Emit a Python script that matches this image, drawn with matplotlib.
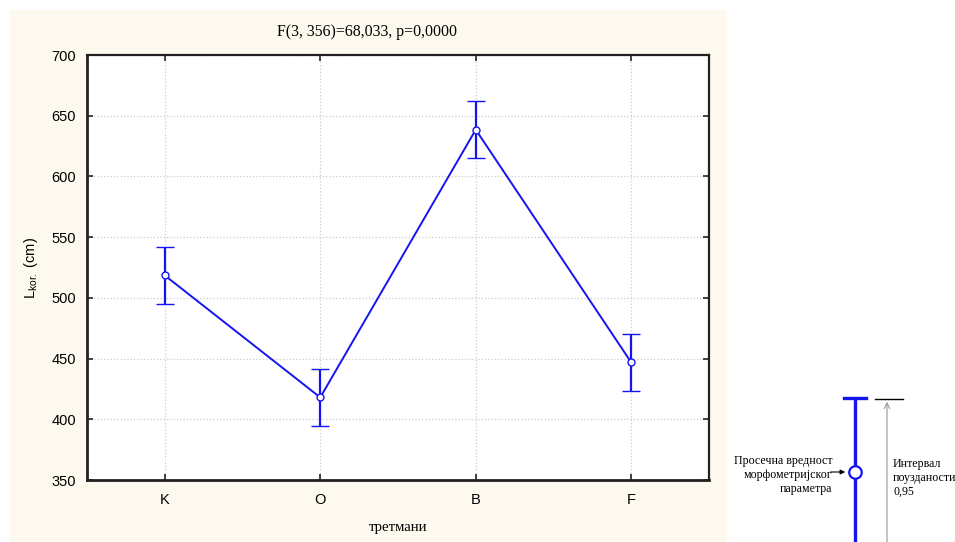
import numpy as np
import matplotlib
matplotlib.use('Agg')
import matplotlib.pyplot as plt
from matplotlib.patches import Rectangle

plt.rcParams['font.family'] = ['Liberation Sans', 'DejaVu Sans']
plt.rcParams['mathtext.default'] = 'regular'

# treatment groups, means and 0.95 confidence half-widths
treatments = ['K', 'O', 'B', 'F']
means = [518.5, 418.0, 638.5, 446.8]
ci_half = [23.5, 23.5, 23.5, 23.5]

title_text = 'F(3, 356)=68,033, p=0,0000'
x_label = 'третмани'
y_label = 'L$_{kor.}$ (cm)'
y_ticks = [350, 400, 450, 500, 550, 600, 650, 700]

BLUE = '#1414F0'
CREAM = '#FEF9EE'
SERIF = ['Liberation Serif', 'DejaVu Serif']

fig = plt.figure(figsize=(9.55, 5.42), dpi=100)
fig.patch.set_facecolor('white')

# cream panel behind the plot
fig.patches.append(Rectangle((10 / 955, 0), 717 / 955, 532 / 542,
                             transform=fig.transFigure, facecolor=CREAM,
                             edgecolor='none', zorder=-5))

ax = fig.add_axes([87 / 955, 1 - 480 / 542, 622 / 955, 425 / 542])
ax.set_zorder(2)
ax.set_facecolor('white')
x = np.arange(len(treatments))
ax.errorbar(x, means, yerr=ci_half, color=BLUE, lw=1.4, capsize=6.3,
            capthick=1.4, elinewidth=1.6, marker='o', markersize=5,
            markerfacecolor='white', markeredgecolor=BLUE,
            markeredgewidth=1.0, zorder=3)

ax.set_xlim(-0.5, 3.5)
ax.set_ylim(350, 700)
ax.set_xticks(x)
ax.set_xticklabels(treatments)
ax.set_yticks(y_ticks)
ax.tick_params(direction='in', length=4, width=1.2, labelsize=10.5,
               top=True, right=True, colors='#222222', labelcolor='black')
ax.tick_params(axis='x', pad=9)
ax.tick_params(axis='y', pad=8)
ax.grid(True, color='#cccccc', linestyle=':', linewidth=0.9)
for side in ['left', 'bottom']:
    ax.spines[side].set_linewidth(2.0)
for side in ['top', 'right']:
    ax.spines[side].set_linewidth(1.6)
for sp in ax.spines.values():
    sp.set_color('#222222')

fig.text(367 / 955, 1 - 32 / 542, title_text, ha='center', va='center',
         fontsize=11.4, family=SERIF)
fig.text(398 / 955, 1 - 528 / 542, x_label, ha='center', va='center',
         fontsize=10.6, family=SERIF)
fig.text(31 / 955, 1 - 268 / 542, y_label, ha='center', va='center',
         rotation=90, fontsize=10.5)

# explanation of the mean / interval marks, in pixel coordinates
lg = fig.add_axes([720 / 955, 0, 235 / 955, 162 / 542])
lg.set_zorder(3)
lg.set_xlim(720, 955)
lg.set_ylim(542, 380)
lg.axis('off')
lg.plot([855, 855], [398, 545], color=BLUE, lw=2.4, solid_capstyle='butt')
lg.plot([844, 866], [398, 398], color=BLUE, lw=2.4)
lg.plot([855], [472], 'o', markersize=9, markerfacecolor='white',
        markeredgecolor=BLUE, markeredgewidth=1.6)
lg.plot([875, 903], [399, 399], color='black', lw=1.0)
lg.annotate('', xy=(887, 399), xytext=(887, 545),
            arrowprops=dict(arrowstyle='->', color='#999999', lw=0.8))
lg.annotate('', xy=(848, 472), xytext=(828, 472),
            arrowprops=dict(arrowstyle='-|>', color='black', lw=0.8,
                            mutation_scale=7))
lg.text(832, 475, 'Просечна вредност\nморфометријског\nпараметра',
        ha='right', va='center', fontsize=8.6, family=SERIF, linespacing=1.2)
lg.text(893, 478, 'Интервал\nпоузданости\n0,95', ha='left', va='center',
        fontsize=8.6, family=SERIF, linespacing=1.2)

fig.savefig('out.png', dpi=100, facecolor='white')
